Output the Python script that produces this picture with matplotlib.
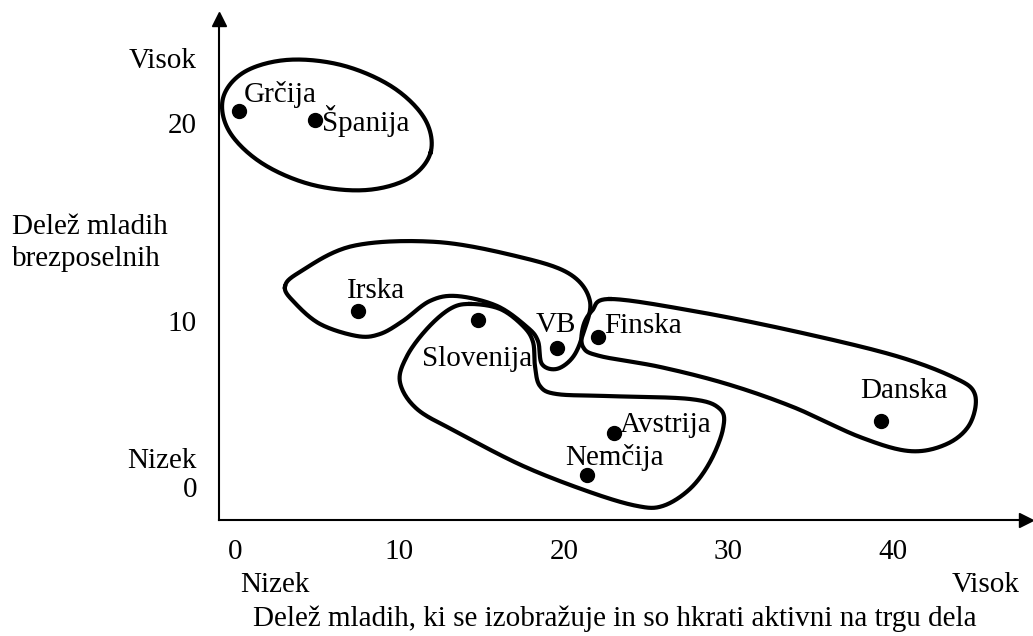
import matplotlib
matplotlib.use("Agg")
import matplotlib.pyplot as plt
import numpy as np

plt.rcParams['font.family'] = ['Liberation Serif', 'DejaVu Serif']

# drzave in vrednosti (x: delez mladih, ki se izobrazujejo in delajo; y: brezposelnost mladih)
countries = ["Grčija", "Španija", "Irska", "Slovenija", "VB", "Finska", "Danska", "Avstrija", "Nemčija"]
x_vals = [0.26, 4.86, 7.48, 14.79, 19.59, 22.08, 39.25, 23.06, 21.38]
y_vals = [20.67, 20.2, 10.57, 10.1, 8.68, 9.25, 4.98, 4.38, 2.29]
# odmik napisov od tocke (v pt) in poravnava
label_dx = [3, 5, -8, -1, -1, 4, 17, 4, 20]
label_dy = [12, -1, 14, -28, 17, 8, 22, 6, 12]
label_ha = ["left", "left", "left", "center", "center", "left", "center", "left", "center"]

xticks = [0, 10, 20, 30, 40]
ytick_labels = ["Visok", "20", "10", "Nizek", "0"]
ytick_y = [23.2, 19.9, 9.9, 3.0, 1.5]

# obrisi skupin (v enotah podatkov)
group_south_x = [11.90, 10.58, 7.93, 4.64, 1.62, -0.35, -0.72, 0.60, 3.26, 6.54, 9.57, 11.53]
group_south_y = [18.58, 17.26, 16.66, 16.94, 18.03, 19.63, 21.32, 22.64, 23.24, 22.96, 21.87, 20.27]

group_irska_x = [3.04, 3.9, 7.17, 12.28, 17.33, 20.36, 21.58, 21.16, 20.55, 19.57, 18.66, 18.42,
                 17.75, 15.93, 13.50, 11.85, 10.21, 8.81, 7.42, 5.17, 3.6]
group_irska_y = [11.77, 12.5, 13.84, 14.04, 13.28, 12.42, 11.06, 9.39, 8.23, 7.63, 7.88, 9.04,
                 9.75, 10.81, 11.31, 11.06, 10.05, 9.39, 9.29, 9.90, 11.0]

group_central_x = [14.29, 16.11, 17.51, 18.12, 18.24, 18.54, 19.57, 22.61, 27.66, 29.48, 29.67, 28.88,
                   27.66, 26.02, 24.44, 21.58, 17.51, 13.50, 11.06, 10.03, 10.46, 11.67, 13.07]
group_central_y = [10.91, 10.66, 9.80, 8.99, 7.78, 6.77, 6.36, 6.26, 6.11, 5.61, 4.60, 2.93,
                   1.57, 0.71, 0.71, 1.41, 2.73, 4.44, 5.61, 6.97, 8.28, 9.65, 10.66]

group_north_x = [22.80, 27.84, 33.92, 40.0, 43.65, 44.98, 44.68, 43.28, 41.03, 38.0, 33.92, 29.91,
                 25.84, 22.19, 21.16, 21.16, 21.70]
group_north_y = [11.16, 10.56, 9.55, 8.33, 7.22, 6.36, 4.85, 3.84, 3.48, 4.19, 5.71, 6.87,
                 7.73, 8.28, 8.74, 9.75, 10.56]


def smooth_closed(xs, ys, n=24):
    """Zaprta Catmull-Rom krivulja skozi podane tocke."""
    P = np.column_stack([xs, ys])
    k = len(P)
    t = np.linspace(0, 1, n, endpoint=False)[:, None]
    parts = []
    for i in range(k):
        p0, p1, p2, p3 = P[i - 1], P[i], P[(i + 1) % k], P[(i + 2) % k]
        parts.append(0.5 * (2 * p1 + (-p0 + p2) * t
                            + (2 * p0 - 5 * p1 + 4 * p2 - p3) * t ** 2
                            + (-p0 + 3 * p1 - 3 * p2 + p3) * t ** 3))
    pts = np.vstack(parts + [parts[0][:1]])
    return pts[:, 0], pts[:, 1]


fs = 21
fig = plt.figure(figsize=(10.33, 6.36), dpi=100)
ax = fig.add_axes([0.2120, 0.1824, 0.7812, 0.7877])
ax.set_xlim(-0.97, 48.09)
ax.set_ylim(0, 25.3)

for gx, gy in [(group_south_x, group_south_y), (group_irska_x, group_irska_y),
               (group_central_x, group_central_y), (group_north_x, group_north_y)]:
    sx, sy = smooth_closed(gx, gy)
    ax.plot(sx, sy, color="black", lw=3, solid_joinstyle="round")

ax.plot(x_vals, y_vals, "o", color="black", markersize=10)
for name, x, y, dx, dy, ha in zip(countries, x_vals, y_vals, label_dx, label_dy, label_ha):
    ax.annotate(name, (x, y), xytext=(dx, dy), textcoords="offset points",
                ha=ha, va="center", fontsize=fs)

# osi s puscicami
for side in ["top", "right"]:
    ax.spines[side].set_visible(False)
for side in ["left", "bottom"]:
    ax.spines[side].set_linewidth(1.5)
ax.plot(1, 0, ">k", markersize=10, transform=ax.transAxes, clip_on=False)
ax.plot(0, 1, "^k", markersize=10, transform=ax.transAxes, clip_on=False)

ax.set_xticks([])
ax.set_yticks([])
for xt in xticks:
    ax.text(xt, -1.6, str(xt), ha="center", va="center", fontsize=fs, clip_on=False)
for lab, yt in zip(ytick_labels, ytick_y):
    ax.text(-2.31, yt, lab, ha="right", va="center", fontsize=fs, clip_on=False)

ax.text(-13.56, 14.0, "Delež mladih\nbrezposelnih", ha="left", va="center",
        fontsize=fs, linespacing=1.32, clip_on=False)
ax.text(2.43, -3.3, "Nizek", ha="center", va="center", fontsize=fs, clip_on=False)
ax.text(47.7, -3.3, "Visok", ha="right", va="center", fontsize=fs, clip_on=False)
ax.text(23.1, -5.0, "Delež mladih, ki se izobražuje in so hkrati aktivni na trgu dela",
        ha="center", va="center", fontsize=fs, clip_on=False)

fig.savefig("out.png", dpi=100)
